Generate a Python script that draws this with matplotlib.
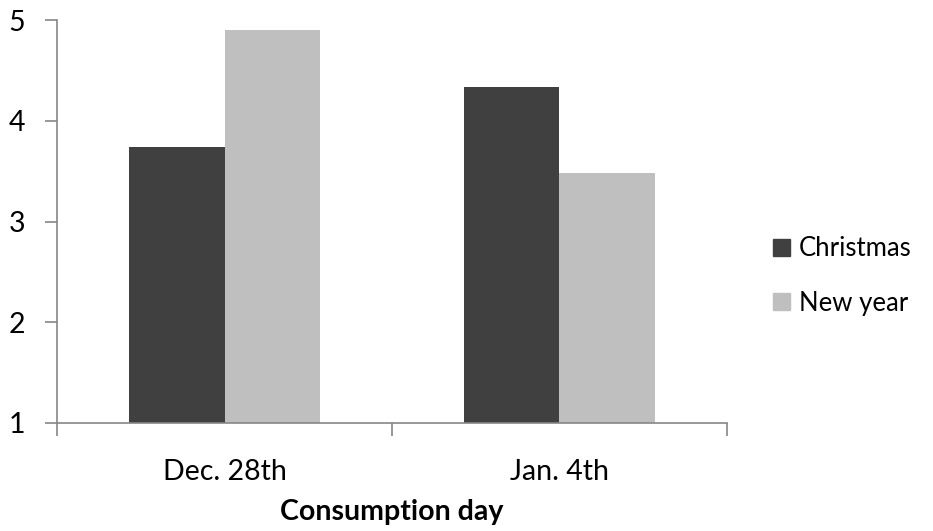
import matplotlib
matplotlib.use("Agg")
import matplotlib.pyplot as plt
import numpy as np
from matplotlib.patches import Patch

# data
days = ["Dec. 28th", "Jan. 4th"]
christmas = [3.74, 4.34]
new_year = [4.90, 3.48]

dark = "#404040"
light = "#bfbfbf"
axis_grey = "#868686"

plt.rcParams["font.family"] = ["Lato", "DejaVu Sans"]
fs = 20.5

fig = plt.figure(figsize=(9.33, 5.31), dpi=100)
ax = fig.add_axes([0.0611, 0.2034, 0.7181, 0.7589])

x = np.arange(len(days))
w = 1 / 3.5  # excel gap width 150%
base = 1
ax.bar(x - w / 2, np.array(christmas) - base, w, bottom=base, color=dark)
ax.bar(x + w / 2, np.array(new_year) - base, w, bottom=base, color=light)

ax.set_xlim(-0.5, 1.5)
ax.set_ylim(1, 5)
ax.set_yticks([1, 2, 3, 4, 5])

# category boundary ticks, labels centred under groups
ax.set_xticks([-0.5, 0.5, 1.5])
ax.set_xticklabels([])
ax.set_xticks(x, minor=True)
ax.set_xticklabels(days, minor=True)
ax.tick_params(axis="x", which="major", length=9, color=axis_grey, width=1.2)
ax.tick_params(axis="x", which="minor", length=0, pad=26, labelsize=fs)
ax.tick_params(axis="y", length=9, color=axis_grey, width=1.2, labelsize=fs, pad=14)

for s in ["top", "right"]:
    ax.spines[s].set_visible(False)
for s in ["left", "bottom"]:
    ax.spines[s].set_color(axis_grey)
    ax.spines[s].set_linewidth(1.2)

ax.set_xlabel("Consumption day", fontsize=fs, fontweight="bold", labelpad=10)

handles = [Patch(color=dark, label="Christmas"), Patch(color=light, label="New year")]
fig.legend(handles=handles, loc="center left", bbox_to_anchor=(0.804, 0.48),
           frameon=False, fontsize=18.5, handlelength=0.65, handleheight=0.65,
           handletextpad=0.35, labelspacing=1.15)

fig.savefig("out.png", dpi=100)
